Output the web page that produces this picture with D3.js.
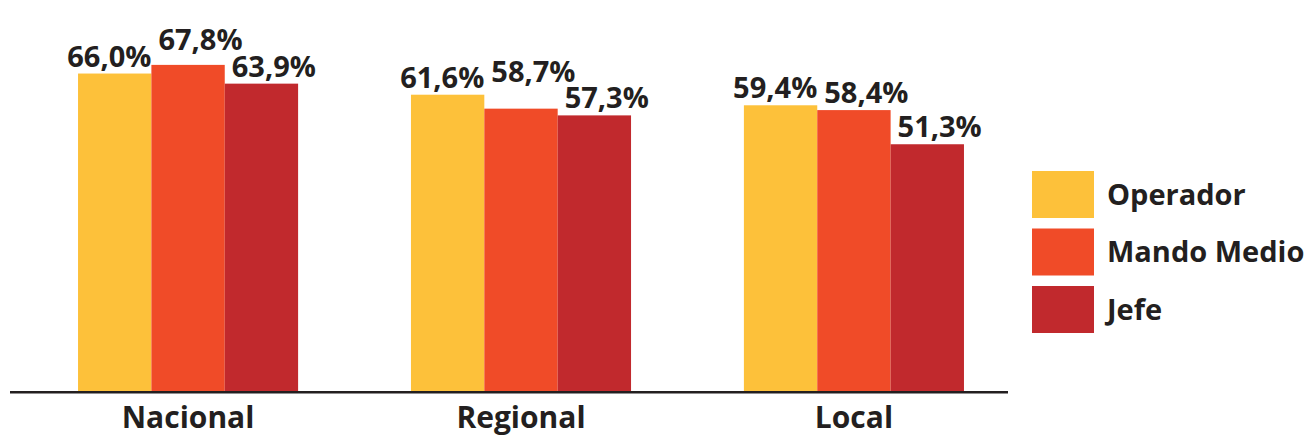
<!DOCTYPE html>
<html>
<head>
<meta charset="utf-8">
<script src="https://cdn.jsdelivr.net/npm/d3@7"></script>
<style>
  html, body { margin: 0; padding: 0; background: #ffffff; }
  svg { display: block; }
  text { font-family: "Open Sans", "Noto Sans", sans-serif; font-weight: 700; fill: #231f20; }
</style>
</head>
<body>
<svg id="chart" width="1308" height="438"></svg>
<script>
// Categories (ámbito) and series (nivel de puesto)
const categories = ["Nacional", "Regional", "Local"];
const seriesNames = ["Operador", "Mando Medio", "Jefe"];
const seriesColors = ["#fdc13a", "#f04b28", "#c1292d"];

// Percentages per series, in category order
const operador   = [66.0, 61.6, 59.4];
const mandoMedio = [67.8, 58.7, 58.4];
const jefe       = [63.9, 57.3, 51.3];

const seriesValues = [operador, mandoMedio, jefe];

const svg = d3.select("#chart");
const baseY = 391;

const x0 = d3.scaleBand()
  .domain(categories)
  .range([21.6, 1020.4])
  .paddingInner(0.339)
  .paddingOuter(0.1695);

const x1 = d3.scaleBand()
  .domain(d3.range(seriesNames.length))
  .range([0, x0.bandwidth()])
  .padding(0);

const y = d3.scaleLinear().domain([0, 80]).range([baseY, baseY - 80 * 4.81]);

const fmt = v => v.toFixed(1).replace(".", ",") + "%";

// Bars
const rows = categories.map((c, ci) => ({
  cat: c,
  items: seriesValues.map((vals, si) => ({ si, value: vals[ci] }))
}));

const groups = svg.selectAll("g.group")
  .data(rows)
  .join("g")
  .attr("class", "group")
  .attr("transform", d => `translate(${x0(d.cat)},0)`);

groups.selectAll("rect")
  .data(d => d.items)
  .join("rect")
  .attr("x", d => x1(d.si))
  .attr("y", d => y(d.value))
  .attr("width", x1.bandwidth())
  .attr("height", d => baseY - y(d.value))
  .attr("fill", d => seriesColors[d.si]);

// Value labels: first series right-aligned to its bar, others start just inside their bar
const labelSize = 29;
const capH = labelSize * 0.72;
const gap = 7;

groups.each(function (row) {
  const g = d3.select(this);
  const labels = row.items.map(d => {
    const t = g.append("text")
      .attr("font-size", labelSize)
      .text(fmt(d.value));
    const anchorEnd = d.si === 0;
    t.attr("text-anchor", anchorEnd ? "end" : "start")
     .attr("x", anchorEnd ? x1(d.si) + x1.bandwidth() : x1(d.si) + 7);
    const w = t.node().getComputedTextLength();
    const left = anchorEnd ? x1(d.si) + x1.bandwidth() - w : x1(d.si) + 7;
    return { t, d, left, right: left + w, base: y(d.value) - gap };
  });
  // lift the label of the taller bar when two neighbouring labels collide
  for (let pass = 0; pass < 3; pass++) {
    for (let i = 0; i < labels.length - 1; i++) {
      const a = labels[i], b = labels[i + 1];
      const hOverlap = a.right > b.left;
      const vOverlap = Math.abs(a.base - b.base) < capH + 4;
      if (hOverlap && vOverlap) {
        if (a.d.value >= b.d.value) a.base = b.base - capH - 6;
        else b.base = a.base - capH - 6;
      }
    }
  }
  labels.forEach(l => l.t.attr("y", l.base));
});

// Baseline
svg.append("line")
  .attr("x1", 10).attr("x2", 1008)
  .attr("y1", baseY + 1.3).attr("y2", baseY + 1.3)
  .attr("stroke", "#231f20")
  .attr("stroke-width", 2.6);

// Category labels
svg.selectAll("text.cat")
  .data(categories)
  .join("text")
  .attr("class", "cat")
  .attr("x", d => x0(d) + x0.bandwidth() / 2)
  .attr("y", 428)
  .attr("text-anchor", "middle")
  .attr("font-size", 30)
  .text(d => d);

// Legend
const legend = svg.append("g").attr("transform", "translate(1032,171)");
const leg = legend.selectAll("g")
  .data(seriesNames)
  .join("g")
  .attr("transform", (d, i) => `translate(0,${i * 57.5})`);
leg.append("rect")
  .attr("width", 62)
  .attr("height", 47)
  .attr("fill", (d, i) => seriesColors[i]);
leg.append("text")
  .attr("x", 75)
  .attr("y", 33.5)
  .attr("font-size", 29)
  .text(d => d);
</script>
</body>
</html>
